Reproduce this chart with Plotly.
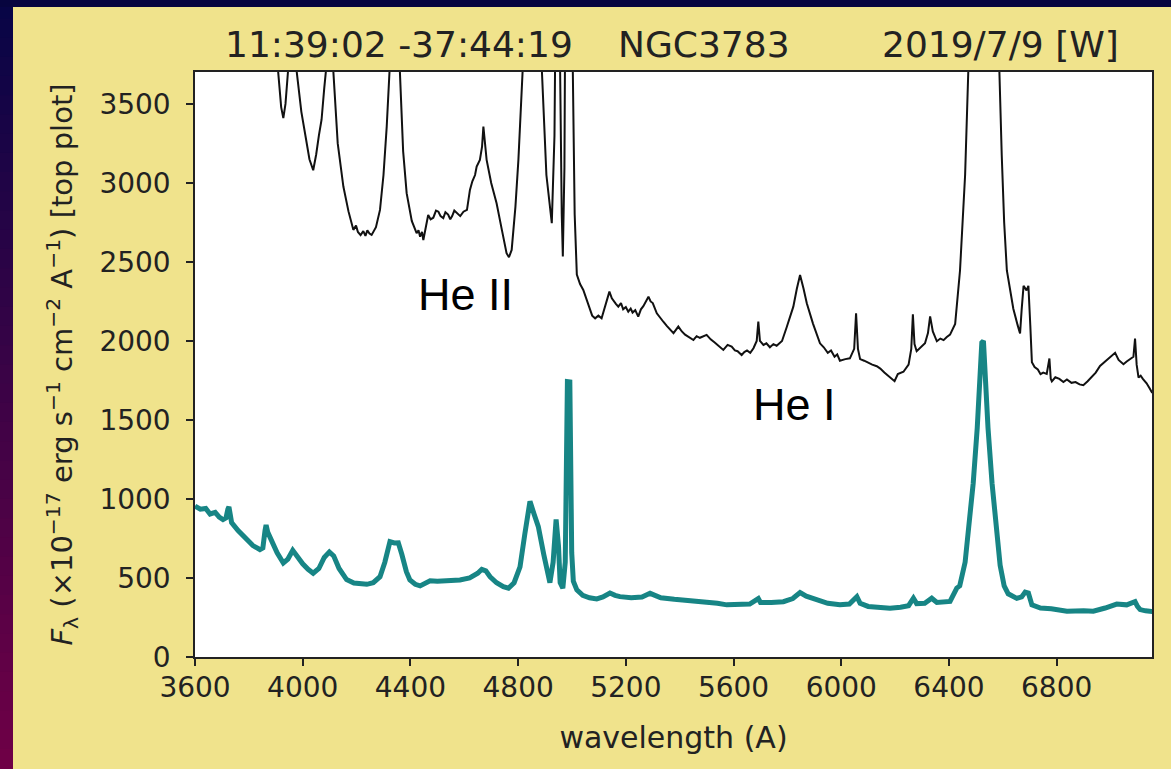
import plotly.graph_objects as go

# Lower spectrum (teal): wavelength (A) and flux (1e-17 erg/s/cm2/A)
wave_lower = [3600, 3620, 3640, 3656, 3675, 3690, 3704, 3715, 3722, 3726, 3731, 3736, 3760, 3792, 3815,
              3841, 3852, 3860, 3864, 3870, 3885, 3905, 3928, 3945, 3963, 3980, 4000, 4020, 4039, 4060,
              4080, 4099, 4115, 4135, 4163, 4190, 4215, 4238, 4262, 4287, 4305, 4318, 4324, 4340, 4355,
              4368, 4385, 4398, 4418, 4436, 4455, 4473, 4500, 4540, 4584, 4620, 4650, 4665, 4680, 4696,
              4720, 4745, 4764, 4785, 4807, 4825, 4844, 4860, 4875, 4895, 4918, 4930, 4941, 4950, 4956,
              4966, 4975, 4983, 4992, 4999, 5005, 5018, 5040, 5065, 5092, 5115, 5141, 5160, 5178, 5220,
              5260, 5290, 5330, 5380, 5414, 5460, 5500, 5540, 5575, 5620, 5660, 5692, 5700, 5740, 5785,
              5820, 5847, 5870, 5909, 5950, 5995, 6030, 6058, 6070, 6100, 6140, 6181, 6220, 6250, 6268,
              6280, 6310, 6336, 6355, 6380, 6404, 6429, 6440, 6460, 6475, 6490, 6505, 6515, 6522, 6528,
              6534, 6545, 6560, 6575, 6590, 6605, 6620, 6652, 6670, 6683, 6695, 6708, 6740, 6780, 6838,
              6900, 6936, 6980, 7023, 7060, 7091, 7100, 7110, 7130, 7155]
flux_lower = [955, 935, 940, 905, 915, 885, 870, 880, 935, 950, 900, 850, 800, 740, 705,
              680, 690, 800, 835, 790, 730, 660, 595, 620, 675, 635, 590, 555, 530, 560,
              630, 665, 640, 560, 490, 468, 462, 460, 470, 508, 600, 700, 730, 722, 723,
              650, 540, 487, 460, 450, 470, 483, 480, 482, 487, 500, 530, 555, 545, 508,
              470, 445, 435, 470, 570, 780, 985, 900, 825, 650, 470, 600, 870, 700, 470,
              435, 600, 1742, 1740, 660, 480, 425, 390, 375, 368, 380, 405, 390, 382, 375,
              380, 403, 375, 365, 360, 355, 350, 340, 330, 332, 335, 370, 345, 345, 350,
              370, 408, 385, 360, 340, 330, 335, 382, 340, 320, 315, 308, 315, 325, 372,
              338, 340, 372, 345, 350, 352, 436, 450, 600, 850, 1100, 1450, 1700, 1990, 2000,
              1750, 1450, 1100, 800, 580, 450, 400, 371, 380, 411, 405, 330, 310, 305, 290,
              292, 290, 310, 335, 330, 350, 320, 300, 292, 288]

# Upper spectrum (black), plotted on the same flux axis
wave_upper = [3600, 3700, 3726, 3800, 3864, 3895, 3909, 3920, 3928, 3936, 3946, 3963, 3978, 3995, 4010,
              4025, 4039, 4050, 4060, 4070, 4080, 4087, 4099, 4114, 4130, 4151, 4170, 4188, 4198, 4205,
              4215, 4225, 4233, 4240, 4248, 4256, 4272, 4287, 4300, 4312, 4322, 4340, 4361, 4373, 4386,
              4405, 4423, 4430, 4436, 4443, 4448, 4458, 4466, 4475, 4485, 4495, 4504, 4512, 4522, 4530,
              4540, 4548, 4555, 4563, 4572, 4585, 4597, 4610, 4621, 4630, 4640, 4646, 4658, 4666, 4671,
              4677, 4683, 4700, 4720, 4740, 4757, 4766, 4776, 4790, 4801, 4817, 4844, 4875, 4888, 4905,
              4925, 4935, 4941, 4950, 4956, 4962, 4966, 4972, 4978, 4983, 4992, 5003, 5010, 5018, 5030,
              5042, 5060, 5075, 5086, 5098, 5110, 5125, 5139, 5148, 5155, 5163, 5172, 5182, 5190, 5200,
              5209, 5218, 5225, 5235, 5246, 5256, 5265, 5284, 5292, 5300, 5315, 5328, 5340, 5352, 5364,
              5377, 5395, 5408, 5420, 5435, 5451, 5463, 5475, 5500, 5515, 5530, 5545, 5562, 5578, 5593,
              5605, 5615, 5630, 5640, 5650, 5662, 5674, 5686, 5692, 5698, 5711, 5722, 5735, 5748, 5760,
              5780, 5797, 5810, 5822, 5835, 5847, 5860, 5872, 5895, 5921, 5935, 5950, 5962, 5975, 5985,
              5995, 6015, 6032, 6048, 6055, 6062, 6070, 6085, 6100, 6115, 6132, 6145, 6160, 6175, 6188,
              6198, 6210, 6231, 6250, 6260, 6266, 6272, 6280, 6300, 6311, 6322, 6330, 6340, 6355, 6368,
              6380, 6392, 6404, 6423, 6441, 6460, 6472, 6500, 6527, 6560, 6587, 6596, 6605, 6615, 6639,
              6655, 6664, 6670, 6677, 6688, 6695, 6702, 6708, 6718, 6730, 6740, 6750, 6763, 6768, 6773,
              6778, 6782, 6795, 6810, 6825, 6838, 6855, 6870, 6885, 6899, 6915, 6930, 6945, 6961, 6973,
              6985, 7000, 7017, 7030, 7048, 7060, 7070, 7085, 7091, 7097, 7104, 7112, 7120, 7127, 7134,
              7145, 7155]
flux_upper = [5600, 5300, 5500, 4600, 4900, 3900, 3700, 3480, 3410, 3500, 3720, 4000, 3700, 3450, 3300,
              3150, 3080, 3180, 3300, 3400, 3600, 3720, 3930, 3700, 3250, 2977, 2820, 2703, 2730, 2690,
              2670, 2695, 2665, 2700, 2680, 2671, 2720, 2829, 3050, 3356, 3720, 4300, 3700, 3200, 2935,
              2760, 2682, 2700, 2660, 2690, 2639, 2720, 2797, 2770, 2780, 2825, 2818, 2790, 2777, 2815,
              2800, 2770, 2790, 2825, 2808, 2790, 2818, 2830, 2956, 3010, 3050, 3103, 3146, 3230, 3356,
              3250, 3146, 3000, 2871, 2700, 2555, 2530, 2576, 2850, 3146, 3720, 5800, 4800, 3720, 3050,
              2745, 3300, 4500, 3900, 3700, 2800, 2534, 3100, 3800, 10000, 10000, 3720, 2800, 2420, 2360,
              2323, 2230, 2160, 2143, 2160, 2143, 2230, 2312, 2270, 2250, 2235, 2217, 2240, 2200, 2215,
              2185, 2205, 2180, 2195, 2154, 2200, 2220, 2280, 2250, 2240, 2175, 2150, 2120, 2095, 2070,
              2049, 2091, 2060, 2040, 2025, 2006, 2030, 2020, 2038, 2010, 1990, 1970, 1943, 1975, 1964,
              1940, 1935, 1911, 1930, 1940, 1925, 1954, 2000, 2122, 2000, 1975, 1985, 1960, 1980, 1970,
              2000, 2085, 2150, 2217, 2330, 2418, 2330, 2239, 2110, 1985, 1960, 1925, 1940, 1900, 1915,
              1875, 1885, 1890, 1950, 2175, 1950, 1885, 1875, 1860, 1850, 1840, 1825, 1800, 1780, 1760,
              1745, 1790, 1805, 1850, 1950, 2168, 1980, 1935, 1970, 1986, 2050, 2156, 2060, 1998, 2015,
              2005, 2025, 2040, 2108, 2446, 3052, 3720, 9000, 11800, 9000, 3720, 3173, 2750, 2446, 2204,
              2100, 2047, 2200, 2349, 2320, 2349, 2100, 1865, 1835, 1820, 1790, 1800, 1792, 1830, 1889,
              1760, 1744, 1770, 1760, 1740, 1756, 1735, 1740, 1725, 1720, 1745, 1770, 1800, 1842, 1860,
              1880, 1900, 1925, 1880, 1853, 1870, 1880, 1900, 2015, 1850, 1768, 1780, 1760, 1745, 1732,
              1700, 1671]

x_ticks = [3600, 4000, 4400, 4800, 5200, 5600, 6000, 6400, 6800]
y_ticks = [0, 500, 1000, 1500, 2000, 2500, 3000, 3500]
x_range = [3600, 7154]
y_range = [0, 3702]

title_parts = ["11:39:02 -37:44:19", "NGC3783", "2019/7/9 [W]"]
line_labels = [("He II", 4606, 2291), ("He I", 5825, 1595)]

W, H = 1171, 769
ML, MR, MT, MB = 195, 19, 72, 112
PW, PH = W - ML - MR, H - MT - MB

PANEL = "#f0e38c"
TEXT = "#222222"
TEAL = "#178585"


def px_to_paper_x(px):
    return (px - ML) / PW


def py_to_paper_y(py):
    return (H - MB - py) / PH


fig = go.Figure()
fig.add_trace(go.Scatter(x=wave_lower, y=flux_lower, mode="lines",
                         line=dict(color=TEAL, width=5), showlegend=False))
fig.add_trace(go.Scatter(x=wave_upper, y=flux_upper, mode="lines",
                         line=dict(color="#111111", width=2), showlegend=False))

shapes = []
# dark frame: gradient strip down the left side, then a strip along the top
top_rgb, bot_rgb = (8, 5, 70), (110, 0, 70)
n_bands = 40
band_h = H / n_bands
for i in range(n_bands):
    t = i / (n_bands - 1)
    r, g, b = [int(round(a + (c - a) * t)) for a, c in zip(top_rgb, bot_rgb)]
    y_top = max(0, i * band_h - 1)
    y_bot = min(H, (i + 1) * band_h + 1)
    shapes.append(dict(type="rect", xref="paper", yref="paper", layer="above",
                       x0=px_to_paper_x(0), x1=px_to_paper_x(13),
                       y0=py_to_paper_y(y_bot), y1=py_to_paper_y(y_top),
                       fillcolor=f"rgb({r},{g},{b})", line=dict(width=0)))
shapes.append(dict(type="rect", xref="paper", yref="paper", layer="above",
                   x0=px_to_paper_x(0), x1=px_to_paper_x(W), y0=py_to_paper_y(7), y1=py_to_paper_y(0),
                   fillcolor="#07053f", line=dict(width=0)))

annotations = []
for txt, cx in zip(title_parts, [399, 704, 1000]):
    annotations.append(dict(text=txt, xref="paper", yref="paper", x=px_to_paper_x(cx), y=py_to_paper_y(45),
                            showarrow=False, xanchor="center", yanchor="middle",
                            font=dict(family="DejaVu Sans", size=36, color=TEXT)))
for txt, lx, ly in line_labels:
    annotations.append(dict(text=txt, x=lx, y=ly, xref="x", yref="y", showarrow=False,
                            xanchor="center", yanchor="middle",
                            font=dict(family="Liberation Sans, Arial", size=45, color="#000000")))

fig.update_layout(
    width=W, height=H,
    margin=dict(l=ML, r=MR, t=MT, b=MB),
    paper_bgcolor=PANEL, plot_bgcolor="white",
    shapes=shapes, annotations=annotations,
    font=dict(family="DejaVu Sans", color=TEXT),
    xaxis=dict(range=x_range, tickvals=x_ticks, ticktext=[str(v) for v in x_ticks],
               showgrid=False, zeroline=False, showline=True, mirror=True,
               linecolor="#222222", linewidth=1.5, ticks="outside", ticklen=7, tickwidth=1.5,
               tickcolor="#222222", tickfont=dict(size=28, color=TEXT), ticklabelstandoff=-2,
               title=dict(text="wavelength (A)", font=dict(size=30, color=TEXT), standoff=24)),
    yaxis=dict(range=y_range, tickvals=y_ticks, ticktext=[str(v) for v in y_ticks],
               showgrid=False, zeroline=False, showline=True, mirror=True,
               linecolor="#222222", linewidth=1.5, ticks="outside", ticklen=7, tickwidth=1.5,
               tickcolor="#222222", tickfont=dict(size=28, color=TEXT), ticklabelstandoff=10,
               title=dict(text="<i>F</i><sub>λ</sub> (×10<sup>−17</sup> erg s<sup>−1</sup> cm<sup>−2</sup> A<sup>−1</sup>) [top plot]",
                          font=dict(size=29, color=TEXT), standoff=18)),
)

fig.write_html("out.html")
